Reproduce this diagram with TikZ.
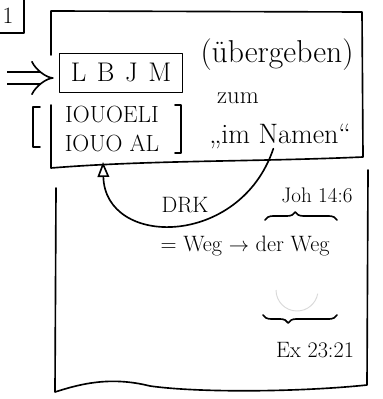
\documentclass[tikz,border=0pt]{standalone}
\usepackage{fontspec}
\usepackage{amsmath}
\usetikzlibrary{arrows.meta, decorations.pathreplacing}

\begin{document}
\begin{tikzpicture}[x=0.3mm, y=-0.3mm,
  sketch/.style={line width=1.4pt, line join=round, line cap=round},
  hand/.style={font=\fontsize{#1}{#1}\selectfont, inner sep=0pt},
  bracebar/.style={sketch, decorate, decoration={brace, amplitude=2.4mm, #1}}]
  \useasboundingbox (0,0) rectangle (382,399);

  % Draw number box
  \draw[sketch] (0,33) -- (24,33) -- (24,0);
  \node[hand=20] (one) at (8,16) {1};

  % Draw upper box, open at the left
  \draw[sketch] (51,55) -- (51,11) -- (362,12) -- (363,157)
    .. controls (250,162) and (150,160) .. (51,168) -- (51,105);

  % Draw lower box
  \draw[sketch] (368,170) -- (367,385) .. controls (300,392) and (200,393) .. (150,386)
    .. controls (110,376) and (80,384) .. (55,392) -- (56,188);

  % Draw names
  \node[sketch, draw, hand=23, minimum width=36.9mm, minimum height=11.7mm] (lbjm) at (121,73) {L\hspace{9pt}B\hspace{9pt}J\hspace{9pt}M};
  \node[font=\fontsize{20}{25}\selectfont, inner sep=0pt, align=center] (names) at (112,129) {IOUOELI\\IOUO~AL};
  \draw[sketch] (40,107) -- (33,107) -- (33,147) -- (40,147);
  \draw[sketch] (175,105) -- (181,105) -- (181,153) -- (175,153);

  % Draw double arrow
  \coordinate (in) at (7,78);
  \draw[sketch, line cap=butt, double, double distance=3.2mm, -{Implies[length=3mm]}, shorten >=1.5mm] (in) -- (in -| lbjm.west);

  % Draw text
  \node[hand=27] (uebergeben) at (277,55) {(übergeben)};
  \node[hand=21] (zum) at (238,98) {zum};
  \node[hand=24] (namen) at (280,136) {„im Namen“};
  \node[hand=19] (drk) at (185,205) {DRK};
  \node[hand=18] (joh) at (317,195) {Joh 14:6};
  \node[hand=19] (weg) at (245,246) {= Weg $\rightarrow$ der Weg};
  \node[hand=19] (ex) at (315,350) {Ex 23:21};

  % Draw curved arrow
  \coordinate (tip) at (103,162);
  \draw[sketch, -{Triangle[open, length=4.5mm, width=3.5mm]}] ([xshift=-2mm]namen.south)
    .. controls (240,248) and (105,248) .. (tip);

  % Draw braces
  \draw[bracebar={aspect=0.42}] (265,220) -- (337,220);
  \draw[bracebar={aspect=0.66}] (337,315) -- (263,315);
  \draw[gray!30, line width=0.8pt] (276,290) arc[start angle=180, end angle=10, radius=21];
\end{tikzpicture}
\end{document}
